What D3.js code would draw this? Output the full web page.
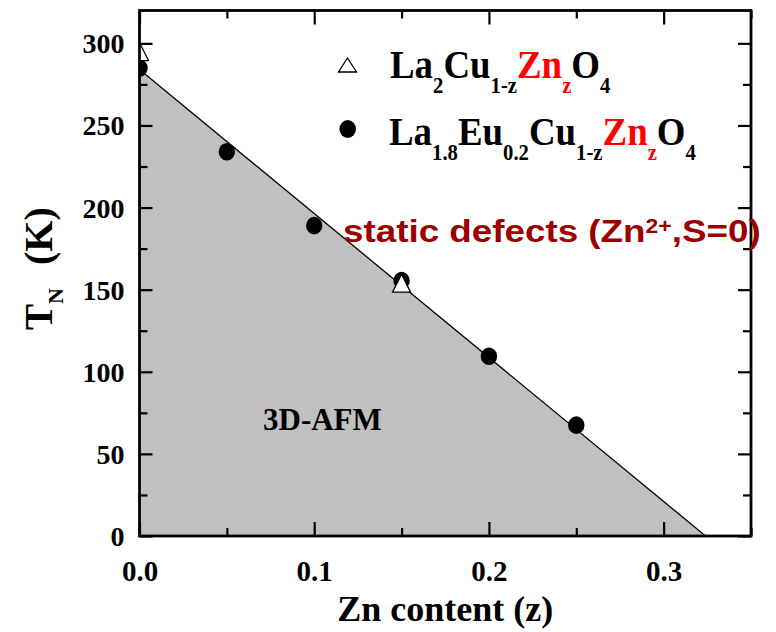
<!DOCTYPE html>
<html>
<head>
<meta charset="utf-8">
<script src="https://cdn.jsdelivr.net/npm/d3@7"></script>
<style>
  html, body { margin: 0; padding: 0; background: #fff; }
  svg { display: block; }
  .serif { font-family: "Liberation Serif", "Times New Roman", serif; font-weight: bold; }
  .sans { font-family: "Liberation Sans", Arial, sans-serif; font-weight: bold; }
</style>
</head>
<body>
<svg id="chart" width="776" height="632"></svg>
<script>
// Néel temperature vs Zn content
const zLa2 = [0.0, 0.15];                       // La2Cu1-zZnzO4 (open triangles)
const tnLa2 = [295, 154];
const zLaEu = [0.0, 0.05, 0.10, 0.15, 0.20, 0.25]; // La1.8Eu0.2Cu1-zZnzO4 (filled circles)
const tnLaEu = [285, 234, 189, 155.5, 109.5, 67.5];
const boundaryZ = [0, 0.324];                   // linear 3D-AFM phase boundary
const boundaryT = [284, 0];
const xMajor = [0.0, 0.1, 0.2, 0.3];
const xMinor = [0.05, 0.15, 0.25, 0.35];
const yMajor = [0, 50, 100, 150, 200, 250, 300];
const yMinor = [25, 75, 125, 175, 225, 275];

const svg = d3.select("#chart");
const pLeft = 139.5, pRight = 751, pTop = 10.5, pBottom = 536;

const x = d3.scaleLinear().domain([0, 0.35]).range([pLeft, pRight]);
const y = d3.scaleLinear().domain([0, 320]).range([pBottom, pTop]);

svg.append("defs").append("clipPath").attr("id", "plotClip")
  .append("rect").attr("x", pLeft).attr("y", pTop)
  .attr("width", pRight - pLeft).attr("height", pBottom - pTop);

const plot = svg.append("g").attr("clip-path", "url(#plotClip)");

// shaded ordered region under the boundary
const boundary = boundaryZ.map((z, i) => [z, boundaryT[i]]);
plot.append("path")
  .datum(boundary)
  .attr("d", d3.area().x(d => x(d[0])).y0(y(0)).y1(d => y(d[1])))
  .attr("fill", "#c0c0c0");
plot.append("path")
  .datum(boundary)
  .attr("d", d3.line().x(d => x(d[0])).y(d => y(d[1])))
  .attr("fill", "none").attr("stroke", "#000").attr("stroke-width", 1.3);

// filled circles
plot.selectAll("ellipse.eu").data(zLaEu).join("ellipse")
  .attr("class", "eu")
  .attr("cx", d => x(d)).attr("cy", (d, i) => y(tnLaEu[i]))
  .attr("rx", 8.2).attr("ry", 8.8).attr("fill", "#000");

// open triangles
const tri = (cx, cy, w, h) =>
  `M${cx},${cy - h / 2}L${cx + w / 2},${cy + h / 2}L${cx - w / 2},${cy + h / 2}Z`;
plot.selectAll("path.la2").data(zLa2).join("path")
  .attr("class", "la2")
  .attr("d", (d, i) => tri(x(d), y(tnLa2[i]), 18, 18))
  .attr("fill", "#fff").attr("stroke", "#000").attr("stroke-width", 1.3);

// axes with inward ticks on all four sides
function styleAxis(g) {
  g.select(".domain").remove();
  g.selectAll(".tick line").attr("stroke", "#000").attr("stroke-width", 2.2);
}
const noLabel = () => "";

svg.append("g").attr("transform", `translate(0,${pBottom})`)
  .call(d3.axisBottom(x).tickValues(xMajor).tickSize(-14).tickPadding(24)
    .tickFormat(d3.format(".1f")))
  .call(styleAxis)
  .call(g => g.selectAll("text").attr("class", "serif").attr("font-size", 29)
    .attr("fill", "#000"));
svg.append("g").attr("transform", `translate(0,${pBottom})`)
  .call(d3.axisBottom(x).tickValues(xMinor).tickSize(-8).tickFormat(noLabel))
  .call(styleAxis);
svg.append("g").attr("transform", `translate(0,${pTop})`)
  .call(d3.axisTop(x).tickValues(xMajor).tickSize(-14).tickFormat(noLabel))
  .call(styleAxis);
svg.append("g").attr("transform", `translate(0,${pTop})`)
  .call(d3.axisTop(x).tickValues(xMinor).tickSize(-8).tickFormat(noLabel))
  .call(styleAxis);

svg.append("g").attr("transform", `translate(${pLeft},0)`)
  .call(d3.axisLeft(y).tickValues(yMajor).tickSize(-13).tickPadding(15)
    .tickFormat(d3.format("d")))
  .call(styleAxis)
  .call(g => g.selectAll("text").attr("class", "serif").attr("font-size", 28)
    .attr("fill", "#000").attr("dy", "0.34em"));
svg.append("g").attr("transform", `translate(${pLeft},0)`)
  .call(d3.axisLeft(y).tickValues(yMinor).tickSize(-8).tickFormat(noLabel))
  .call(styleAxis);
svg.append("g").attr("transform", `translate(${pRight},0)`)
  .call(d3.axisRight(y).tickValues(yMajor).tickSize(-13).tickFormat(noLabel))
  .call(styleAxis);
svg.append("g").attr("transform", `translate(${pRight},0)`)
  .call(d3.axisRight(y).tickValues(yMinor).tickSize(-8).tickFormat(noLabel))
  .call(styleAxis);

svg.append("rect")
  .attr("x", pLeft).attr("y", pTop).attr("width", pRight - pLeft).attr("height", pBottom - pTop)
  .attr("fill", "none").attr("stroke", "#000").attr("stroke-width", 2.8);

// axis titles
svg.append("text").attr("class", "serif")
  .attr("x", (pLeft + pRight) / 2).attr("y", 621)
  .attr("text-anchor", "middle").attr("font-size", 36)
  .text("Zn content (z)");

const yt = svg.append("text").attr("class", "serif")
  .attr("transform", "translate(52,330) rotate(-90)");
yt.append("tspan").attr("font-size", 39).text("T");
yt.append("tspan").attr("font-size", 22).attr("dy", 11).text("N");
yt.append("tspan").attr("font-size", 40).attr("x", 65).attr("dy", -11).text("(K)");

// rich text helper: segments of [text, size, dy, colour]
function richText(tx, ty, sx, cls, segs) {
  const t = svg.append("text").attr("class", cls)
    .attr("transform", `translate(${tx},${ty}) scale(${sx},1)`);
  let shift = 0;
  segs.forEach(([s, size, dy, col]) => {
    t.append("tspan").attr("font-size", size).attr("dy", dy - shift)
      .attr("fill", col || "#000").text(s);
    shift = dy;
  });
  return t;
}

const red = "#ff0000";
// legend
svg.append("path").attr("d", tri(347.5, 65, 18, 14))
  .attr("fill", "#fff").attr("stroke", "#000").attr("stroke-width", 1.3);
richText(390, 78, 0.9, "serif", [
  ["La", 41, 0], ["2", 23, 15], ["Cu", 41, 0], ["1-z", 23, 15],
  ["Zn", 41, 0, red], ["z", 23, 15, red], ["O", 41, 0], ["4", 23, 15]
]);
svg.append("ellipse").attr("cx", 347.7).attr("cy", 129).attr("rx", 8.3).attr("ry", 9)
  .attr("fill", "#000");
richText(389, 145, 0.9, "serif", [
  ["La", 41, 0], ["1.8", 23, 15], ["Eu", 41, 0], ["0.2", 23, 15], ["Cu", 41, 0],
  ["1-z", 23, 15], ["Zn", 41, 0, red], ["z", 23, 15, red], ["O", 41, 0], ["4", 23, 15]
]);

// annotations
const darkRed = "#9c0000";
richText(343, 241.7, 1.15, "sans", [
  ["static defects (Zn", 32, 0, darkRed], ["2+", 20, -9, darkRed],
  [",S=0)", 32, 0, darkRed]
]);
svg.append("text").attr("class", "serif")
  .attr("x", 263).attr("y", 430).attr("font-size", 31)
  .text("3D-AFM");
</script>
</body>
</html>
